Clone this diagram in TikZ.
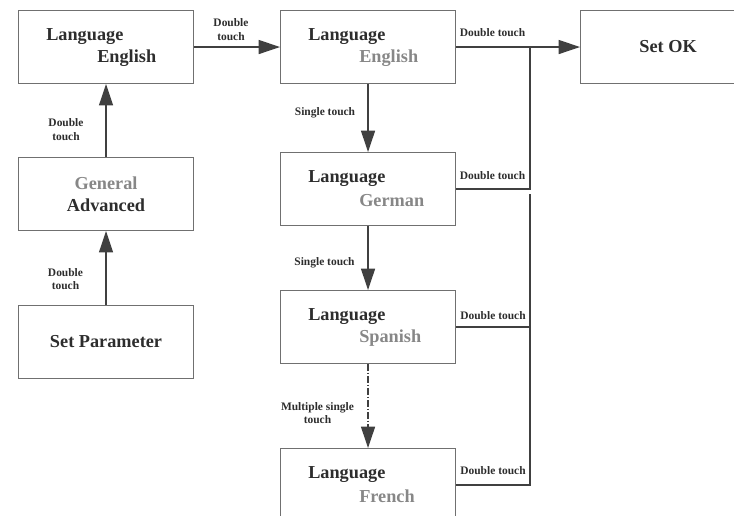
\documentclass[tikz,border=0pt]{standalone}
\usepackage{fontspec}
\setmainfont{Liberation Serif}
\usetikzlibrary{arrows.meta,positioning}
\definecolor{lineg}{RGB}{64,64,64}
\definecolor{boxg}{RGB}{112,112,112}
\definecolor{txtd}{RGB}{45,45,45}
\definecolor{txtl}{RGB}{135,135,135}

\tikzset{
  panel/.style={draw=boxg,line width=.8pt,minimum width=131.25pt,minimum height=54.75pt,
    inner sep=0pt,anchor=north west,align=center,text=txtd,
    font=\fontsize{13.7}{16.5}\selectfont\bfseries},
  big/.style={font=\fontsize{13.7}{16.5}\selectfont\bfseries,text=txtd,inner sep=0pt},
  lbl/.style={font=\fontsize{8.6}{9.9}\selectfont\bfseries,text=txtd,inner sep=0pt,align=center},
  flow/.style={draw=lineg,line width=1pt,-{Triangle[length=16pt,width=10.5pt]}},
  wire/.style={draw=lineg,line width=1pt},
}

\begin{document}
\begin{tikzpicture}[x=.75pt,y=-.75pt]
    \useasboundingbox (0,0) rectangle (734,516);
    \clip (0,0) rectangle (734,516);
    % left column
    \node[panel] (lang) at (18,10) {};
    \node[big,anchor=west] (lang-a) at ([xshift=21pt,yshift=8pt]lang.west) {Language};
    \node[big,anchor=west] (lang-b) at ([xshift=59.25pt,yshift=-8.5pt]lang.west) {English};
    \node[panel] (gen) at (18,157) {{\color{txtl}General}\\Advanced};
    \node[panel] (setp) at (18,305) {Set Parameter};
    % middle column
    \foreach \n/\y/\w in {me/10/English,mg/152/German,ms/290/Spanish,mf/448/French}{
      \node[panel] (\n) at (280,\y) {};
      \node[big,anchor=west] (\n-a) at ([xshift=21pt,yshift=8pt]\n.west) {Language};
      \node[big,anchor=west,text=txtl] (\n-b) at ([xshift=59.25pt,yshift=-8.5pt]\n.west) {\w};
    }
    \node[panel] (ok) at (580,10) {Set OK};
    % arrows
    \draw[flow] (lang.east) -- (me.west);
    \draw[flow] (gen.north) -- (lang.south);
    \draw[flow] (setp.north) -- (gen.south);
    \draw[flow] (me.south) -- (mg.north);
    \draw[flow] (mg.south) -- (ms.north);
    \draw[flow,dash pattern=on 5pt off 1.5pt on 1pt off 1.5pt] (ms.south) -- (mf.north);
    \draw[flow] (me.east) -- (ok.west);
    % double touch return lines
    \coordinate (j1) at ([xshift=55.5pt]me.east);
    \coordinate (j2) at ([yshift=-4pt]j1 |- mg.east);
    \draw[wire] (mg.east) -| (j1);
    \draw[wire] (j2) |- (mf.east);
    \draw[wire] (ms.east) -- (ms.east -| j1);
    % labels
    \node[lbl] (t1) at (231,29.5) {Double\\touch};
    \node[lbl] (t2) at (66,129.5) {Double\\touch};
    \node[lbl] (t3) at (65.5,279) {Double\\touch};
    \node[lbl] (t4) at (492.5,33) {Double touch};
    \node[lbl] (t5) at (492.5,176) {Double touch};
    \node[lbl] (t6) at (493,316) {Double touch};
    \node[lbl] (t7) at (493,471) {Double touch};
    \node[lbl] (s1) at (325,112.5) {Single touch};
    \node[lbl] (s2) at (324.5,263) {Single touch};
    \node[lbl] (s3) at (317.5,413) {Multiple single\\touch};
\end{tikzpicture}
\end{document}
